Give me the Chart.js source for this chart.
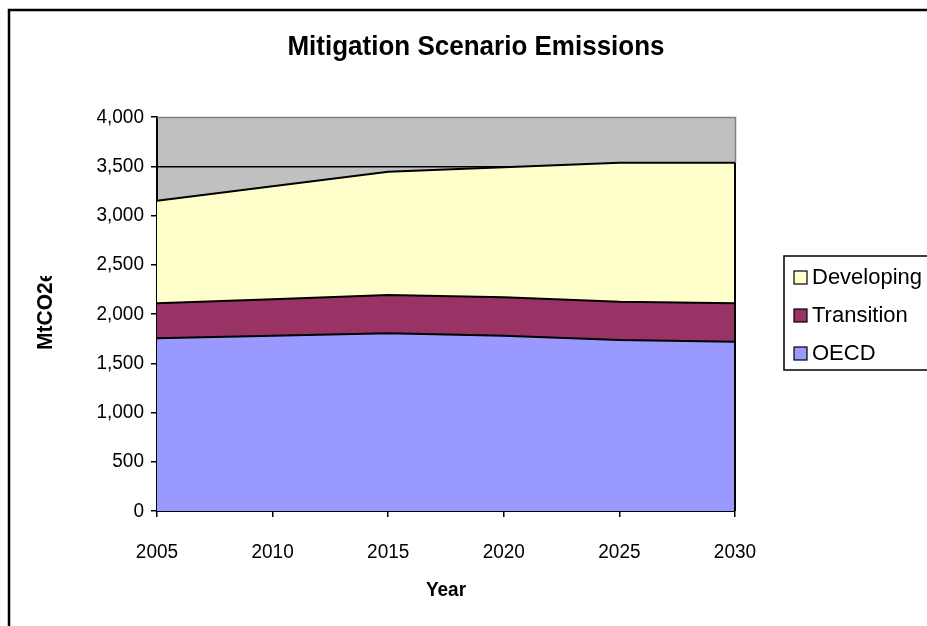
<!DOCTYPE html>
<html>
<head>
<meta charset="utf-8">
<script src="https://cdn.jsdelivr.net/npm/chart.js@4/dist/chart.umd.min.js"></script>
<style>
  html, body { margin: 0; padding: 0; background: #fff; }
  canvas { display: block; }
</style>
</head>
<body>
<canvas id="c" width="927" height="626"></canvas>
<script>
// Emissions by region under the mitigation scenario (MtCO2e)
const years = ['2005', '2010', '2015', '2020', '2025', '2030'];
const oecd = [1755, 1780, 1805, 1780, 1735, 1718];
const transition = [353, 370, 388, 390, 390, 390];
const developing = [1042, 1147, 1252, 1320, 1410, 1427];
const yTickValues = [0, 500, 1000, 1500, 2000, 2500, 3000, 3500, 4000];

const chartTitle = 'Mitigation Scenario Emissions';
const xTitle = 'Year';
const yTitle = 'MtCO2e';

const FONT = "'Liberation Sans', Arial, Helvetica, sans-serif";
const STRETCH = 1.08; // slightly tall lettering
Chart.defaults.font.family = FONT;
Chart.defaults.color = '#000';

// draw a text string scaled vertically around its middle
function tallText(ctx, text, x, y, font, align) {
  ctx.save();
  ctx.font = font;
  ctx.textAlign = align;
  ctx.textBaseline = 'middle';
  ctx.fillStyle = '#000';
  ctx.translate(x, y);
  ctx.scale(1, STRETCH);
  ctx.fillText(text, 0, 0);
  ctx.restore();
}

const decor = {
  id: 'decor',
  beforeDraw(chart) {
    const { ctx, chartArea: a } = chart;
    ctx.save();
    ctx.fillStyle = '#fff';
    ctx.fillRect(0, 0, chart.width, chart.height);
    ctx.fillStyle = '#C0C0C0';
    ctx.fillRect(a.left, a.top, a.right - a.left, a.bottom - a.top);
    ctx.restore();
  },
  afterDraw(chart) {
    const { ctx, chartArea: a, scales } = chart;
    ctx.save();
    // plot frame: grey along the top and the upper right edge, black where the areas meet it
    const last = years.length - 1;
    const topY = scales.y.getPixelForValue(oecd[last] + transition[last] + developing[last]);
    ctx.lineWidth = 1.5;
    ctx.strokeStyle = '#808080';
    ctx.beginPath();
    ctx.moveTo(a.left, a.top + 0.5);
    ctx.lineTo(a.right + 0.5, a.top + 0.5);
    ctx.lineTo(a.right + 0.5, topY);
    ctx.stroke();
    ctx.strokeStyle = '#000';
    ctx.lineWidth = 2;
    ctx.beginPath();
    ctx.moveTo(a.right, topY);
    ctx.lineTo(a.right, a.bottom);
    ctx.stroke();

    // tick labels
    const fTick = '19px ' + FONT;
    scales.x.ticks.forEach((t, i) => {
      tallText(ctx, scales.x.getLabelForValue(t.value), scales.x.getPixelForTick(i), 552, fTick, 'center');
    });
    scales.y.ticks.forEach((t, i) => {
      tallText(ctx, Number(t.value).toLocaleString('en-US'), 144, scales.y.getPixelForTick(i), fTick, 'right');
    });

    // chart title and x axis title
    tallText(ctx, chartTitle, 476, 47, 'bold 26px ' + FONT, 'center');
    tallText(ctx, xTitle, (a.left + a.right) / 2, 590, 'bold 19px ' + FONT, 'center');

    // y axis title, cut off at the top of its box
    ctx.save();
    ctx.beginPath();
    ctx.rect(20, 276, 60, 115);
    ctx.clip();
    ctx.translate(46, 350);
    ctx.rotate(-Math.PI / 2);
    ctx.scale(1, 1.08);
    ctx.textAlign = 'left';
    ctx.textBaseline = 'middle';
    ctx.fillStyle = '#000';
    ctx.font = 'bold 21px ' + FONT;
    ctx.fillText(yTitle, 0, 0);
    ctx.restore();

    // legend (top series first)
    const bx = 784, by = 256, bb = 370;
    ctx.strokeStyle = '#000';
    ctx.lineWidth = 1.5;
    ctx.strokeRect(bx, by, 200, bb - by);
    const ds = chart.data.datasets.slice().reverse();
    const rowY = [277, 315, 353];
    ctx.font = '22px ' + FONT;
    ctx.textAlign = 'left';
    ctx.textBaseline = 'middle';
    ds.forEach((d, i) => {
      const y = rowY[i];
      ctx.fillStyle = d.backgroundColor;
      ctx.fillRect(794, y - 6, 13, 13);
      ctx.lineWidth = 1.2;
      ctx.strokeStyle = '#000';
      ctx.strokeRect(794, y - 6, 13, 13);
      ctx.fillStyle = '#000';
      ctx.fillText(d.label, 812, y + 1);
    });

    // outer chart border
    ctx.lineWidth = 2.5;
    ctx.strokeStyle = '#000';
    ctx.strokeRect(9, 10, 1000, 1000);
    ctx.restore();
  }
};

new Chart(document.getElementById('c'), {
  type: 'line',
  data: {
    labels: years,
    datasets: [
      { label: 'OECD', data: oecd, backgroundColor: '#9999FF', fill: 'origin' },
      { label: 'Transition', data: transition, backgroundColor: '#993366', fill: '-1' },
      { label: 'Developing', data: developing, backgroundColor: '#FFFFCC', fill: '-1' }
    ]
  },
  options: {
    responsive: false,
    animation: false,
    devicePixelRatio: 1,
    layout: { padding: { left: 57, right: 192, top: 117, bottom: 55 } },
    elements: {
      line: { borderColor: '#000', borderWidth: 2, tension: 0 },
      point: { radius: 0, hoverRadius: 0 }
    },
    plugins: {
      legend: { display: false },
      title: { display: false },
      tooltip: { enabled: false }
    },
    scales: {
      x: {
        type: 'category',
        offset: false,
        afterFit(scale) { scale.height = 60; },
        grid: { drawOnChartArea: false, color: '#000', tickColor: '#000', tickLength: 6, lineWidth: 1.5 },
        border: { color: '#000', width: 2 },
        ticks: { font: { size: 18 }, padding: 24, maxRotation: 0, autoSkip: false, color: 'rgba(0,0,0,0)' }
      },
      y: {
        stacked: true,
        min: 0,
        max: 4000,
        afterFit(scale) { scale.width = 100; },
        afterBuildTicks(scale) { scale.ticks = yTickValues.map(v => ({ value: v })); },
        grid: {
          color: (c) => (c.tick && c.tick.value === 4000 ? 'rgba(0,0,0,0)' : '#000'),
          tickColor: '#000',
          tickLength: 6,
          lineWidth: 1.5
        },
        border: { color: '#000', width: 2 },
        ticks: {
          font: { size: 18 },
          padding: 7,
          color: 'rgba(0,0,0,0)',
          callback: (v) => Number(v).toLocaleString('en-US')
        }
      }
    }
  },
  plugins: [decor]
});
</script>
</body>
</html>
